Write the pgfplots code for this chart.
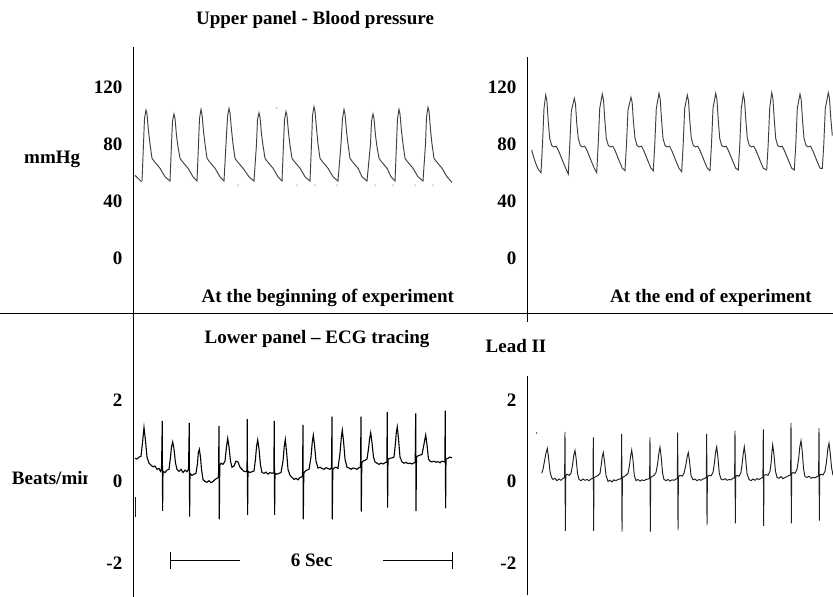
\documentclass[border=0pt]{standalone}
\usepackage{fontspec}
\setmainfont{Liberation Serif}
\usepackage{pgfplots}
\pgfplotsset{compat=1.18}
\newcommand\f{\fontsize{19}{22}\selectfont\bfseries}
\pgfplotsset{
  panel/.style={
    scale only axis, anchor=south west,
    axis x line=none, axis y line=left,
    axis line style={-, line width=0.8pt, black},
    every outer y axis line/.append style={-},
    every inner y axis line/.append style={-},
    y axis line style={-},
    major tick length=0pt,
    /pgf/number format/assume math mode=true,
    yticklabel style={font=\f, anchor=east, inner sep=0pt, xshift=-10.5pt},
  },
  bp/.style={line width=0.95pt, black!75, no marks},
  ecg/.style={line width=0.95pt, black!88, no marks},
}
\begin{document}
\begin{tikzpicture}
% ---------------- Upper left: blood pressure, beginning ----------------
\begin{axis}[panel, width=327pt, height=266pt, at={(133pt,284pt)},
  xmin=133, xmax=460, ymin=-38.6, ymax=148.1, ytick={0,40,80,120}]
\addplot[bp] coordinates {(135,58) (141.5,53.5)};
\addplot[bp] coordinates {
(142,54) (143.5,80) (144.5,98) (146,103.9) (147,101) (148.5,89) (150,80) (152,70) (154,68) (160,63) (165,57) (170,54)
(171.5,80) (172.5,96) (174,101.1) (175,98) (176.5,86) (178,78) (180,70) (182,68) (188,63) (193,57) (197,54)
(198.5,80) (199.5,98) (201,104.3) (202,101) (203.5,89) (205,80) (207,70) (209,68) (215,63) (220,57) (224,54)
(226,80) (227.5,99) (229,105) (230,102) (231.5,90) (233,80) (235,70) (237,68) (243,63) (249,57) (254,54)
(256.5,80) (257.5,97) (259,101.9) (260,99) (261.5,87) (263,79) (265,70) (267,68) (273,63) (278,57) (282,54)
(283.5,80) (284.5,97) (286,102.7) (287,100) (288.5,88) (290,79) (292,70) (294,68) (300,63) (305,57) (310,54)
(311.5,80) (312.5,100) (314,106.2) (315,103) (316.5,91) (318,80) (320,70) (322,68) (328,63) (333,57) (338,54)
(341,80) (342.5,98) (344,104.3) (345,101) (346.5,89) (348,80) (350,70) (352,68) (358,63) (362,57) (367,54)
(370.5,80) (371.5,96) (373,101.1) (374,98) (375.5,86) (377,78) (379,70) (381,68) (387,63) (391,57) (395,54)
(396.5,80) (397.5,98) (399,104.3) (400,101) (401.5,89) (403,80) (405,70) (407,68) (413,63) (418,57) (423,54)
(425.5,80) (426.5,99) (428,105.7) (429,103) (430.5,90) (432,80) (434,70) (436,68) (442,63) (447,57) (452,53)
};
\addplot[only marks, mark=*, mark size=0.45pt, gray!70] coordinates {
(238,51.2) (297,51.2) (315,51.2) (337,51.2) (375,51.2) (393,51.2) (415,51.2) (433,51.2) (276.7,105.3)};
\end{axis}
% ---------------- Upper right: blood pressure, end ----------------
\begin{axis}[panel, width=306pt, height=265pt, at={(527pt,275pt)},
  xmin=527, xmax=833, ymin=-44.9, ymax=141.1, ytick={0,40,80,120}]
\addplot[bp] coordinates {
(531.7,75.8) (534,70) (536.7,64.6) (539,61.5) (541,59.9)
(542.5,80) (544,105) (545.7,114.4) (546.9,110.4) (548.2,96.4) (549.7,84) (551.7,79) (553.7,78) (556.2,78.5) (558.7,75) (562.7,68) (565.7,63) (568.3,58.9)
(569.8,80) (571.3,103) (574.3,112.1) (575.5,108) (576.8,94) (578.3,84) (580.3,79) (582.3,78) (584.8,78.5) (587.3,75) (591.3,68) (594.3,63) (596.7,59.9)
(598.2,80) (599.7,105) (602.3,115.1) (603.5,111) (604.8,97) (606.3,84) (608.3,79) (610.3,78) (612.8,78.5) (615.3,75) (619.3,68) (622.3,63) (625,61.3)
(626.5,80) (628,104) (631,112.8) (632.2,109) (633.5,95) (635,84) (637,79) (639,78) (641.5,78.5) (644,75) (648,68) (651,63) (653.3,61.3)
(654.8,80) (656.3,105) (659,115.6) (660.2,111.6) (661.5,97.6) (663,84) (665,79) (667,78) (669.5,78.5) (672,75) (676,68) (679,63) (681.7,60.6)
(683.2,80) (684.7,105) (687.3,114.4) (688.5,110.4) (689.8,96.4) (691.3,84) (693.3,79) (695.3,78) (697.8,78.5) (700.3,75) (704.3,68) (707.3,63) (710,61.3)
(711.5,80) (713,105) (715.7,115.6) (716.9,111.6) (718.2,97.6) (719.7,84) (721.7,79) (723.7,78) (726.2,78.5) (728.7,75) (732.7,68) (735.7,63) (738.3,61.8)
(739.8,80) (741.3,105) (743.3,115.1) (744.5,111) (745.8,97) (747.3,84) (749.3,79) (751.3,78) (753.8,78.5) (756.3,75) (760.3,68) (763.3,63) (766.7,61.8)
(768.2,80) (769.7,105) (771.7,116) (772.9,112) (774.2,98) (775.7,84) (777.7,79) (779.7,78) (782.2,78.5) (784.7,75) (788.7,68) (791.7,63) (794.3,61.8)
(795.8,80) (797.3,105) (800,115.1) (801.2,111) (802.5,97) (804,84) (806,79) (808,78) (810.5,78.5) (813,75) (817,68) (820,63) (822.3,62.9)
(823.8,80) (825.3,105) (828.3,116) (829.5,112) (830.8,98) (832.3,86)
};
\end{axis}
% ---------------- Lower left: ECG, beginning ----------------
\begin{axis}[panel, width=327pt, height=284pt, at={(133pt,0pt)},
  xmin=133, xmax=460, ymin=-2.834, ymax=4.135, ytick={-2,0,2}]
\addplot[ecg] coordinates {(135,-0.38) (135,-0.87)};
\addplot[ecg, line width=1.1pt, black] coordinates {
(135,0.57) (137,0.55) (139,0.6) (141,0.62) (142.5,0.95) (144,1.33) (145.5,1.0) (147,0.6) (149,0.45) (151,0.4) (153,0.36) (155,0.38) (157,0.3) (159,0.32) (160.5,0.25) (161.5,0.3)
(162.3,1.49) (162.6,-0.72) (163,0.25)
(165,0.22) (167,0.28) (169,0.3) (170.5,0.6) (171.5,0.85) (172.7,0.97) (174,0.8) (175.5,0.45) (177,0.3) (179,0.25) (181,0.3) (183,0.22) (185,0.28) (187,0.24) (188.5,0.3)
(189.3,1.44) (189.6,-0.86) (190,0.2)
(192,0.15) (194,0.18) (196,0.2) (197.5,0.45) (198.3,0.7) (199.3,0.79) (200.5,0.6) (201.5,0.3) (203,0.05) (205,0.0) (207,-0.02) (209,0.02) (211,-0.03) (213,0.0) (215,0.05) (217,0.08) (218.5,0.1)
(219,1.36) (219.3,-0.93) (219.8,0.4)
(221,0.45) (223,0.42) (225,0.5) (226.5,0.85) (227.7,1.06) (229,0.85) (230.5,0.5) (232,0.35) (234,0.38) (236,0.5) (238,0.48) (240,0.35) (242,0.3) (244,0.25) (246,0.24) (247,0.28)
(247.3,1.53) (247.6,-0.82) (248,0.25)
(250,0.22) (252,0.24) (254,0.26) (255.5,0.55) (256.5,0.85) (257.7,1.02) (259,0.8) (260.5,0.4) (262,0.22) (264,0.2) (266,0.23) (268,0.18) (270,0.22) (272,0.2) (273.8,0.22)
(274.3,1.49) (274.6,-0.82) (275,0.2)
(277,0.18) (279,0.2) (281,0.22) (283,0.5) (284.2,0.85) (285.3,1.03) (286.5,0.75) (288,0.3) (290,0.15) (292,0.1) (294,0.05) (296,0.08) (298,0.04) (300,0.1) (302.5,0.12)
(303,1.39) (303.3,-0.93) (303.8,0.2)
(305,0.25) (307,0.28) (309,0.3) (311,0.6) (312.2,0.95) (313.3,1.14) (314.5,0.9) (316,0.5) (318,0.33) (320,0.35) (322,0.32) (324,0.3) (326,0.34) (328,0.32) (330,0.3) (331.5,0.33)
(332,1.59) (332.3,-0.93) (332.8,0.3)
(334,0.33) (336,0.35) (338,0.32) (340,0.7) (341.2,1.05) (342.3,1.26) (343.5,1.0) (345,0.55) (347,0.35) (349,0.33) (351,0.3) (353,0.33) (355,0.32) (357,0.3) (359,0.34) (360.5,0.35)
(361,1.59) (361.3,-0.74) (361.8,0.45)
(363,0.5) (365,0.52) (367,0.55) (368.5,0.8) (369.6,1.05) (370.7,1.2) (372,0.95) (373.5,0.6) (375,0.48) (377,0.45) (379,0.42) (381,0.45) (383,0.43) (385,0.46) (386.8,0.48)
(387.3,1.71) (387.6,-0.64) (388,0.55)
(390,0.57) (392,0.58) (394,0.6) (395.5,0.95) (396.3,1.2) (397.3,1.34) (398.5,1.05) (400,0.6) (402,0.48) (404,0.45) (406,0.47) (408,0.44) (410,0.45) (412,0.43) (414,0.46) (415.2,0.47)
(415.7,1.67) (416,-0.72) (416.5,0.6)
(418,0.63) (420,0.65) (422,0.66) (423.5,0.85) (424.6,1.0) (425.7,1.14) (427,0.9) (428.5,0.55) (430,0.5) (432,0.48) (434,0.5) (436,0.47) (438,0.49) (440,0.46) (442,0.5) (444.8,0.48)
(445.3,1.74) (445.6,-0.66) (446,0.55)
(448,0.57) (450,0.6) (452,0.58)
};
\end{axis}
% ---------------- Lower right: ECG, end ----------------
\begin{axis}[panel, width=306pt, height=219pt, at={(527pt,2pt)},
  xmin=527, xmax=833, ymin=-2.785, ymax=2.589, ytick={-2,0,2}]
\addplot[only marks, mark=*, mark size=0.5pt, black!70] coordinates {(536.7,1.19)};
\addplot[ecg] coordinates {
(541.7,0.2) (543,0.3) (544.5,0.5) (546,0.7) (547.3,0.81) (548.5,0.6) (550,0.25) (551.5,0.1) (553,0.05) (555,0.08) (557,0.02) (559,0.06) (561,0.03) (563,0.08) (564.6,0.1)
(565,1.22) (565.3,-1.21) (565.8,0.15)
(567,0.18) (569,0.15) (571,0.2) (572.5,0.4) (573.8,0.65) (575,0.76) (576.2,0.55) (577.5,0.2) (579,0.05) (581,0.02) (583,0.06) (585,0.03) (587,0.05) (589,0.02) (591,0.06) (593,0.08)
(593.3,1.08) (593.6,-1.21) (594,0.1)
(596,0.12) (598,0.15) (600,0.2) (601.2,0.4) (602.2,0.6) (603.3,0.71) (604.5,0.5) (606,0.15) (608,0.0) (610,0.03) (612,-0.01) (614,0.04) (616,0.02) (618,0.05) (620,0.06) (621.3,0.08)
(621.7,1.17) (622,-1.23) (622.4,0.1)
(624,0.12) (626,0.15) (628,0.2) (629.5,0.4) (630.6,0.62) (631.7,0.77) (632.9,0.55) (634.3,0.15) (636,0.02) (638,0.05) (640,0.01) (642,0.04) (644,0.02) (646,0.05) (648,0.06) (649.6,0.08)
(650,1.08) (650.3,-1.23) (650.7,0.1)
(652,0.12) (654,0.15) (656,0.22) (657.7,0.45) (658.9,0.7) (660,0.84) (661.2,0.6) (662.6,0.2) (664,0.05) (666,0.02) (668,0.05) (670,0.01) (672,0.04) (674,0.03) (676,0.06) (677.3,0.08)
(677.7,1.20) (678,-1.19) (678.4,0.12)
(680,0.15) (682,0.13) (684,0.2) (685.8,0.4) (687.1,0.6) (688.3,0.71) (689.5,0.5) (691,0.15) (693,0.04) (695,0.06) (697,0.02) (699,0.05) (701,0.03) (703,0.06) (705,0.08) (706.3,0.1)
(706.7,1.17) (707,-1.07) (707.4,0.12)
(709,0.15) (711,0.14) (713,0.22) (714.4,0.45) (715.6,0.72) (716.7,0.85) (717.9,0.6) (719.3,0.2) (721,0.06) (723,0.04) (725,0.07) (727,0.03) (729,0.05) (731,0.04) (733,0.08) (734.6,0.1)
(735,1.25) (735.3,-1.03) (735.7,0.12)
(737,0.15) (739,0.13) (741,0.22) (742.2,0.45) (743.3,0.7) (744.3,0.85) (745.5,0.6) (747,0.2) (749,0.05) (751,0.02) (753,0.06) (755,0.03) (757,0.07) (759,0.05) (761,0.08) (762.9,0.1)
(763.3,1.28) (763.6,-1.09) (764,0.15)
(766,0.17) (768,0.15) (770,0.25) (771.3,0.5) (772,0.75) (772.7,0.9) (774,0.65) (775.5,0.25) (777,0.1) (779,0.08) (781,0.12) (783,0.07) (785,0.1) (787,0.12) (789,0.15) (790.6,0.16)
(791,1.44) (791.3,-1.03) (791.7,0.2)
(793,0.22) (795,0.2) (797,0.3) (798.6,0.55) (799.8,0.85) (801,1.0) (802.2,0.75) (803.6,0.3) (805,0.12) (807,0.1) (809,0.13) (811,0.08) (813,0.1) (815,0.09) (817,0.12) (818.6,0.14)
(819,1.31) (819.3,-0.96) (819.7,0.15)
(821,0.18) (823,0.16) (825,0.25) (826.6,0.5) (827.8,0.8) (829,0.94) (830.2,0.7) (831.5,0.35) (833,0.15)
};
\end{axis}
% ---------------- decorations and texts ----------------
\draw[line width=0.8pt] (0pt,283.7pt) -- (833pt,283.7pt);
\node[font=\f] at (315pt,577pt) {Upper panel - Blood pressure};
\node[font=\f, anchor=west, inner sep=0pt] at (24pt,438pt) {mmHg};
\node[font=\f] at (327.8pt,298.7pt) {At the beginning of experiment};
\node[font=\f] at (711pt,298.7pt) {At the end of experiment};
\node[font=\f] at (317pt,258pt) {Lower panel -- ECG tracing};
\node[font=\f] at (516pt,251pt) {Lead II};
\begin{scope}
\clip (0pt,90pt) rectangle (87pt,140pt);
\node[font=\f, anchor=west, inner sep=0pt] at (11.7pt,119pt) {Beats/min};
\end{scope}
\draw[line width=0.8pt] (170pt,28pt) -- (170pt,45pt);
\draw[line width=0.8pt] (170pt,36.5pt) -- (240pt,36.5pt);
\draw[line width=0.8pt] (383pt,36.5pt) -- (452pt,36.5pt);
\draw[line width=0.8pt] (452pt,28pt) -- (452pt,45pt);
\node[font=\f] at (311.7pt,37pt) {6 Sec};
\pgfresetboundingbox
\path (0pt,0pt) rectangle (833pt,597pt);
\end{tikzpicture}
\end{document}
